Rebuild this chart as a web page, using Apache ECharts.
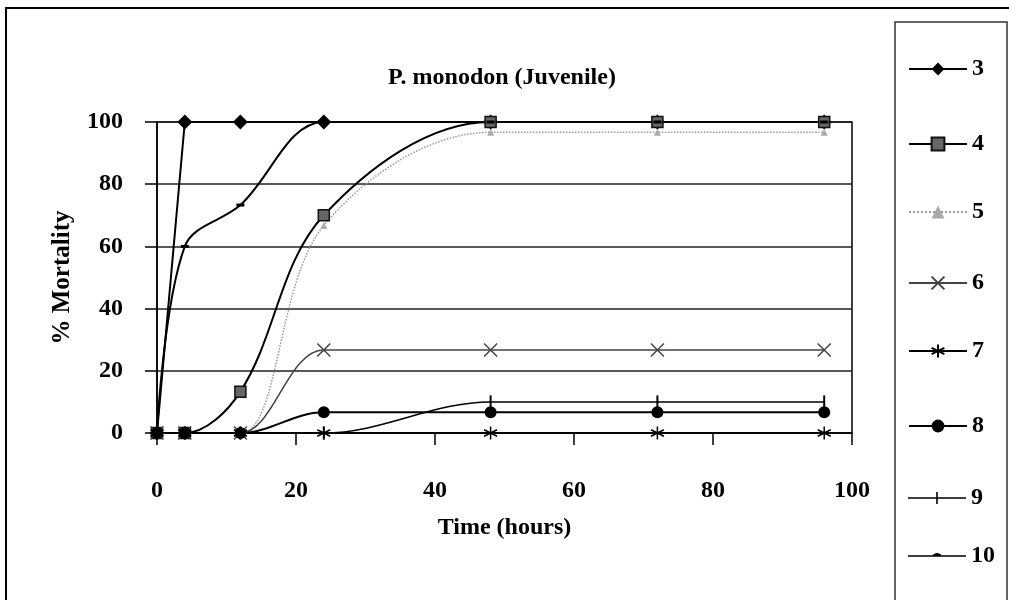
<!DOCTYPE html>
<html>
<head>
<meta charset="utf-8">
<script src="https://cdn.jsdelivr.net/npm/echarts@6/dist/echarts.min.js"></script>
<style>
  html, body { margin: 0; padding: 0; background: #fff; }
  #chart { width: 1009px; height: 600px; }
</style>
</head>
<body>
<div id="chart"></div>
<script>
// ---- data ----
const hours = [0, 4, 12, 24, 48, 72, 96];
const seriesNames = ['3', '4', '5', '6', '7', '8', '9', '10'];
const s3 = [0, 100, 100, 100, 100, 100, 100];
const s4 = [0, 0, 13.3, 70, 100, 100, 100];
const s5 = [0, 0, 0, 66.7, 96.7, 96.7, 96.7];
const s6 = [0, 0, 0, 26.7, 26.7, 26.7, 26.7];
const s7 = [0, 0, 0, 0, 0, 0, 0];
const s8 = [0, 0, 0, 6.7, 6.7, 6.7, 6.7];
const s9 = [0, 0, 0, 0, 10, 10, 10];
const s10 = [0, 60, 73.3, 100, 100, 100, 100];
const xTicks = [0, 20, 40, 60, 80, 100];
const yTicks = [0, 20, 40, 60, 80, 100];

const FONT = '"Liberation Serif", "Times New Roman", serif';
const pair = arr => hours.map((h, i) => [h, arr[i]]);

const styles = {
  '3': { symbol: 'diamond', size: 15, line: '#000', lw: 2, type: 'solid', fill: '#000', border: '#000', bw: 0, smooth: 0 },
  '4': { symbol: 'rect', size: 11, line: '#000', lw: 2, type: 'solid', fill: '#666', border: '#111', bw: 1.5, smooth: 0.35 },
  '5': { symbol: 'triangle', size: 7, line: '#9a9a9a', lw: 1.5, type: 'dotted', fill: '#aaa', border: '#aaa', bw: 0, smooth: 0.35 },
  '6': { symbol: 'path://M0,0L10,10M10,0L0,10', size: 13, line: '#444', lw: 1.5, type: 'solid', fill: '#444', border: '#444', bw: 1.5, smooth: 0.35 },
  '7': { symbol: 'path://M5,0L5,10M0.7,2.5L9.3,7.5M0.7,7.5L9.3,2.5', size: 13, line: '#000', lw: 1.5, type: 'solid', fill: '#000', border: '#000', bw: 1.5, smooth: 0.35 },
  '8': { symbol: 'circle', size: 12, line: '#000', lw: 2, type: 'solid', fill: '#000', border: '#000', bw: 0, smooth: 0.35 },
  '9': { symbol: 'rect', size: [2, 13], line: '#000', lw: 1.5, type: 'solid', fill: '#000', border: '#000', bw: 0, smooth: 0.35 },
  '10': { symbol: 'rect', size: [8, 3], line: '#000', lw: 2, type: 'solid', fill: '#000', border: '#000', bw: 0, smooth: 0.35 }
};
const dataMap = { '3': s3, '4': s4, '5': s5, '6': s6, '7': s7, '8': s8, '9': s9, '10': s10 };

// custom legend icons (58 x 16 box) for the tiny markers
const legendIcons = {
  '9': 'path://M0,0L0.1,0L0,0.1Z M0,7.2H58V8.8H0Z M28.2,2H29.8V14H28.2Z M58,16L57.9,16L58,15.9Z',
  '10': 'path://M0,0L0.1,0L0,0.1Z M0,7.2H58V8.8H0Z M25,6.5Q29,3.5 33,6.5V8.8H25Z M58,16L57.9,16L58,15.9Z'
};

const legendCenters = [68, 143, 211, 282, 350, 425, 497, 555];

const chart = echarts.init(document.getElementById('chart'), null, { renderer: 'canvas' });

const option = {
  animation: false,
  backgroundColor: '#fff',
  title: {
    text: 'P. monodon (Juvenile)',
    left: 497, top: 61, textAlign: 'center',
    textStyle: { fontFamily: FONT, fontSize: 24, fontWeight: 'bold', color: '#000' }
  },
  legend: seriesNames.map((n, i) => ({
    data: [legendIcons[n] ? { name: n, icon: legendIcons[n] } : { name: n }],
    orient: 'vertical',
    left: 903, top: legendCenters[i] - 16,
    itemWidth: 58, itemHeight: 16,
    symbolKeepAspect: !legendIcons[n],
    selectedMode: false,
    textStyle: { fontFamily: FONT, fontSize: 24, fontWeight: 'bold', color: '#000' }
  })),
  grid: {
    left: 157, right: 157, top: 122, bottom: 167,
    show: true, borderColor: '#000', borderWidth: 1.5, backgroundColor: 'transparent'
  },
  xAxis: {
    type: 'value', min: xTicks[0], max: xTicks[xTicks.length - 1], interval: 20,
    name: 'Time (hours)', nameLocation: 'middle', nameGap: 83,
    nameTextStyle: { fontFamily: FONT, fontSize: 24, fontWeight: 'bold', color: '#000' },
    axisLine: { lineStyle: { color: '#000', width: 1.5 } },
    axisTick: { show: true, inside: false, length: 12, lineStyle: { color: '#000', width: 1.5 } },
    axisLabel: { margin: 46, fontFamily: FONT, fontSize: 24, fontWeight: 'bold', color: '#000' },
    splitLine: { show: false }
  },
  yAxis: {
    type: 'value', min: yTicks[0], max: yTicks[yTicks.length - 1], interval: 20,
    name: '% Mortality', nameLocation: 'middle', nameGap: 82, nameRotate: 90,
    nameTextStyle: { fontFamily: FONT, fontSize: 25, fontWeight: 'bold', color: '#000' },
    axisLine: { show: true, lineStyle: { color: '#000', width: 1.5 } },
    axisTick: { show: true, inside: false, length: 12, lineStyle: { color: '#000', width: 1.5 } },
    axisLabel: { margin: 34, fontFamily: FONT, fontSize: 24, fontWeight: 'bold', color: '#000' },
    splitLine: { show: true, lineStyle: { color: '#222', width: 1.5 } }
  },
  graphic: [
    { type: 'line', shape: { x1: 5, y1: 8, x2: 1009, y2: 8 }, style: { stroke: '#000', lineWidth: 2 }, silent: true },
    { type: 'line', shape: { x1: 6, y1: 8, x2: 6, y2: 600 }, style: { stroke: '#000', lineWidth: 2 }, silent: true },
    { type: 'rect', shape: { x: 895, y: 22, width: 112, height: 600 }, style: { fill: 'none', stroke: '#333', lineWidth: 1.5 }, silent: true }
  ],
  series: seriesNames.map(n => {
    const st = styles[n];
    return {
      name: n,
      type: 'line',
      data: pair(dataMap[n]),
      smooth: st.smooth,
      clip: n === '3',
      symbol: st.symbol,
      symbolSize: st.size,
      showSymbol: true,
      lineStyle: { color: st.line, width: st.lw, type: st.type },
      itemStyle: { color: st.fill, borderColor: st.border, borderWidth: st.bw },
      emphasis: { disabled: true },
      z: n === '5' ? 1 : 2
    };
  })
};
chart.setOption(option);
</script>
</body>
</html>
